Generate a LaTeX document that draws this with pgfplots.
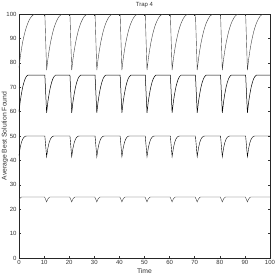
\documentclass[border=0pt]{standalone}
\usepackage{fontspec}
\setmainfont{Liberation Sans}
\usepackage{pgfplots}
\pgfplotsset{compat=1.18}
\begin{document}
\begin{tikzpicture}
\path[use as bounding box] (-19pt,-19pt) rectangle (258pt,258pt);
\begin{axis}[
  at={(0pt,0pt)}, anchor=south west,
  scale only axis, width=251pt, height=244pt,
  xmin=0, xmax=100, ymin=0, ymax=100,
  xtick={0,10,...,100}, ytick={0,10,...,100},
  /pgf/number format/assume math mode=true,
  tick label style={font=\fontsize{6}{7}\selectfont, text=black!80},
  xticklabel style={yshift=1pt},
  yticklabel style={xshift=1pt},
  major tick length=2pt,
  tick style={black!80, line width=0.4pt},
  axis line style={black!85, line width=0.5pt},
  title={Trap 4},
  xlabel={Time},
  ylabel={Average Best Solution Found},
  title style={font=\fontsize{6}{7}\selectfont, text=black!80, yshift=-3.5pt},
  xlabel style={at={(axis description cs:0.5,-0.053)}, anchor=center, font=\fontsize{6.8}{7}\selectfont, text=black!80},
  ylabel style={at={(axis description cs:-0.056,0.5)}, anchor=center, font=\fontsize{6.8}{7}\selectfont, text=black!80},
  cycle list={{black!75, line width=0.5pt, no marks}},
]
\addplot coordinates {
(0,78) (0.5,82.3) (1,85.8) (1.5,88.7) (2,91.1) (2.5,93.1) (3,94.8) (3.5,96.2) (4,97.4) (4.5,98.3) (5,99) (5.5,99.5) (6,99.8) (6.5,100) (10.3,100)
(11,77) (11.5,81.5) (12,85) (12.5,88) (13,90.5) (13.5,92.7) (14,94.5) (14.5,96) (15,97.2) (15.5,98.2) (16,99) (16.5,99.5) (17,99.8) (17.5,100) (20.3,100)
(21,77) (21.5,81.5) (22,85) (22.5,88) (23,90.5) (23.5,92.7) (24,94.5) (24.5,96) (25,97.2) (25.5,98.2) (26,99) (26.5,99.5) (27,99.8) (27.5,100) (30.3,100)
(31,77) (31.5,81.5) (32,85) (32.5,88) (33,90.5) (33.5,92.7) (34,94.5) (34.5,96) (35,97.2) (35.5,98.2) (36,99) (36.5,99.5) (37,99.8) (37.5,100) (40.3,100)
(41,77) (41.5,81.5) (42,85) (42.5,88) (43,90.5) (43.5,92.7) (44,94.5) (44.5,96) (45,97.2) (45.5,98.2) (46,99) (46.5,99.5) (47,99.8) (47.5,100) (50.3,100)
(51,77) (51.5,81.5) (52,85) (52.5,88) (53,90.5) (53.5,92.7) (54,94.5) (54.5,96) (55,97.2) (55.5,98.2) (56,99) (56.5,99.5) (57,99.8) (57.5,100) (60.3,100)
(61,77) (61.5,81.5) (62,85) (62.5,88) (63,90.5) (63.5,92.7) (64,94.5) (64.5,96) (65,97.2) (65.5,98.2) (66,99) (66.5,99.5) (67,99.8) (67.5,100) (70.3,100)
(71,77) (71.5,81.5) (72,85) (72.5,88) (73,90.5) (73.5,92.7) (74,94.5) (74.5,96) (75,97.2) (75.5,98.2) (76,99) (76.5,99.5) (77,99.8) (77.5,100) (80.3,100)
(81,77) (81.5,81.5) (82,85) (82.5,88) (83,90.5) (83.5,92.7) (84,94.5) (84.5,96) (85,97.2) (85.5,98.2) (86,99) (86.5,99.5) (87,99.8) (87.5,100) (90.3,100)
(91,77) (91.5,81.5) (92,85) (92.5,88) (93,90.5) (93.5,92.7) (94,94.5) (94.5,96) (95,97.2) (95.5,98.2) (96,99) (96.5,99.5) (97,99.8) (97.5,100) (100,100)
};
\addplot coordinates {
(0,60) (0.5,64.3) (1,67.5) (1.5,70.2) (2,72.1) (2.5,73.6) (3,74.5) (3.5,74.9) (4,75) (10.3,75)
(11,59.5) (11.5,64) (12,67.3) (12.5,70) (13,72) (13.5,73.5) (14,74.4) (14.5,74.9) (15,75) (20.3,75)
(21,59.5) (21.5,64) (22,67.3) (22.5,70) (23,72) (23.5,73.5) (24,74.4) (24.5,74.9) (25,75) (30.3,75)
(31,59.5) (31.5,64) (32,67.3) (32.5,70) (33,72) (33.5,73.5) (34,74.4) (34.5,74.9) (35,75) (40.3,75)
(41,59.5) (41.5,64) (42,67.3) (42.5,70) (43,72) (43.5,73.5) (44,74.4) (44.5,74.9) (45,75) (50.3,75)
(51,59.5) (51.5,64) (52,67.3) (52.5,70) (53,72) (53.5,73.5) (54,74.4) (54.5,74.9) (55,75) (60.3,75)
(61,59.5) (61.5,64) (62,67.3) (62.5,70) (63,72) (63.5,73.5) (64,74.4) (64.5,74.9) (65,75) (70.3,75)
(71,59.5) (71.5,64) (72,67.3) (72.5,70) (73,72) (73.5,73.5) (74,74.4) (74.5,74.9) (75,75) (80.3,75)
(81,59.5) (81.5,64) (82,67.3) (82.5,70) (83,72) (83.5,73.5) (84,74.4) (84.5,74.9) (85,75) (90.3,75)
(91,59.5) (91.5,64) (92,67.3) (92.5,70) (93,72) (93.5,73.5) (94,74.4) (94.5,74.9) (95,75) (100,75)
};
\addplot coordinates {
(0,42) (0.5,45.4) (1,47.5) (1.5,48.8) (2,49.5) (2.5,49.9) (3,50) (10.3,50)
(11,41.5) (11.5,45) (12,47.3) (12.5,48.7) (13,49.5) (13.5,49.9) (14,50) (20.3,50)
(21,41.5) (21.5,45) (22,47.3) (22.5,48.7) (23,49.5) (23.5,49.9) (24,50) (30.3,50)
(31,41.5) (31.5,45) (32,47.3) (32.5,48.7) (33,49.5) (33.5,49.9) (34,50) (40.3,50)
(41,41.5) (41.5,45) (42,47.3) (42.5,48.7) (43,49.5) (43.5,49.9) (44,50) (50.3,50)
(51,41.5) (51.5,45) (52,47.3) (52.5,48.7) (53,49.5) (53.5,49.9) (54,50) (60.3,50)
(61,41.5) (61.5,45) (62,47.3) (62.5,48.7) (63,49.5) (63.5,49.9) (64,50) (70.3,50)
(71,41.5) (71.5,45) (72,47.3) (72.5,48.7) (73,49.5) (73.5,49.9) (74,50) (80.3,50)
(81,41.5) (81.5,45) (82,47.3) (82.5,48.7) (83,49.5) (83.5,49.9) (84,50) (90.3,50)
(91,41.5) (91.5,45) (92,47.3) (92.5,48.7) (93,49.5) (93.5,49.9) (94,50) (100,50)
};
\addplot coordinates {
(0,23.8) (0.5,24.6) (1,25) (10.2,25)
(11,23) (11.5,24.2) (12,24.8) (12.3,25) (20.2,25)
(21,23) (21.5,24.2) (22,24.8) (22.3,25) (30.2,25)
(31,23) (31.5,24.2) (32,24.8) (32.3,25) (40.2,25)
(41,23) (41.5,24.2) (42,24.8) (42.3,25) (50.2,25)
(51,23) (51.5,24.2) (52,24.8) (52.3,25) (60.2,25)
(61,23) (61.5,24.2) (62,24.8) (62.3,25) (70.2,25)
(71,23) (71.5,24.2) (72,24.8) (72.3,25) (80.2,25)
(81,23) (81.5,24.2) (82,24.8) (82.3,25) (90.2,25)
(91,23) (91.5,24.2) (92,24.8) (92.3,25) (100,25)
};
\end{axis}
\end{tikzpicture}
\end{document}
